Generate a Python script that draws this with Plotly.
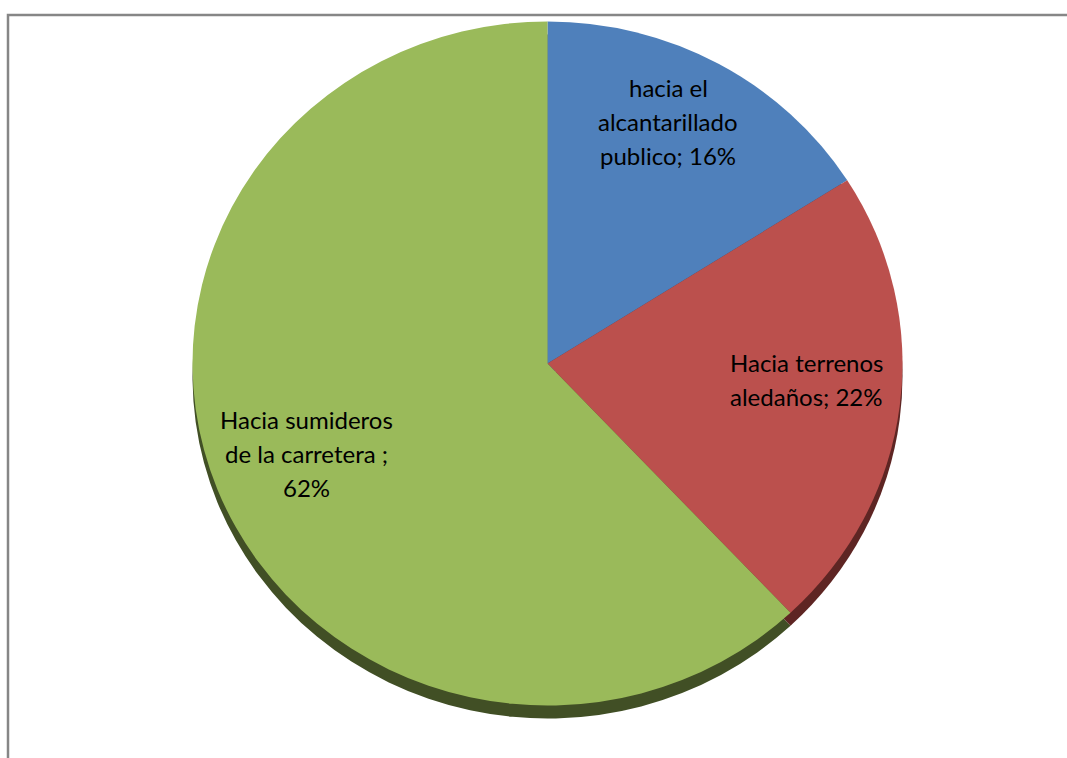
import math
import textwrap
import plotly.graph_objects as go

# Destino de las aguas lluvias
categories = ["hacia el alcantarillado publico", "Hacia terrenos aledaños", "Hacia sumideros de la carretera "]
percentages = [16, 22, 62]
face_colors = ["#4f80bb", "#bb504d", "#9aba5a"]
rim_colors = ["#2c4a70", "#5e2523", "#414f25"]

W, H = 1067, 758
CX, CY = 547.5, 363.5          # pie centre in pixels (from top-left)
RX, RY = 355, 342               # horizontal / vertical radius (tilted disc)
RIM = 13                        # depth of the dark rim under the pie
K = RY / RX
LABEL_CY = 352.5                # labels radiate from the visual apex of the tilted disc
LABEL_R = 0.735 * RX
LABEL_TURN = math.radians(-1.2)

def domain(dy=0):
    return dict(x=[(CX - RX) / W, (CX + RX) / W],
                y=[1 - (CY + RX + dy) / H, 1 - (CY - RX + dy) / H])

fig = go.Figure()

# dark rim drawn first, slightly lower, so it peeks out under the face
fig.add_trace(go.Pie(
    values=percentages, labels=categories, sort=False, direction="clockwise",
    rotation=0, domain=domain(RIM / K), textinfo="none", hoverinfo="skip",
    marker=dict(colors=rim_colors, line=dict(width=0)), showlegend=False,
))
fig.add_trace(go.Pie(
    values=percentages, labels=categories, sort=False, direction="clockwise",
    rotation=0, domain=domain(), textinfo="none",
    marker=dict(colors=face_colors, line=dict(width=0)), showlegend=False,
))

# data labels placed along each slice's mid angle
total = sum(percentages)
start = 0.0
LINE_H = 34
annotations = []
for name, v in zip(categories, percentages):
    mid = (start + v / 2) / total * 2 * math.pi + LABEL_TURN
    start += v
    px = CX + LABEL_R * math.sin(mid)
    py = LABEL_CY - LABEL_R * math.cos(mid)
    lines = textwrap.wrap(f"{name}; {v}%", width=17)
    n = len(lines)
    for i, ln in enumerate(lines):
        ly = py + (i - (n - 1) / 2) * LINE_H
        annotations.append(dict(
            x=px / W, y=1 - ly / H, xref="paper", yref="paper",
            text=ln, showarrow=False, xanchor="center", yanchor="middle",
            font=dict(family="Lato", size=24, color="#000000"),
        ))

fig.update_layout(
    width=W, height=H,
    margin=dict(l=0, r=0, t=0, b=0),
    paper_bgcolor="#ffffff", plot_bgcolor="#ffffff",
    annotations=annotations,
    shapes=[dict(type="rect", xref="paper", yref="paper",
                 x0=8 / W, x1=1.02, y0=-0.02, y1=1 - 15 / H,
                 line=dict(color="#868686", width=2.5), fillcolor="rgba(0,0,0,0)",
                 layer="below")],
)

# flatten the disc vertically about its centre to give the tilted look
squash_js = """
var gd = document.getElementById('{plot_id}');
function squash() {
  var layers = gd.querySelectorAll('.pielayer');
  layers.forEach(function (pl) {
    pl.setAttribute('transform', 'translate(0,%f) scale(1,%f) translate(0,-%f)');
  });
}
squash();
gd.on('plotly_afterplot', squash);
""" % (CY, K, CY)

fig.write_html("out.html", post_script=squash_js)
